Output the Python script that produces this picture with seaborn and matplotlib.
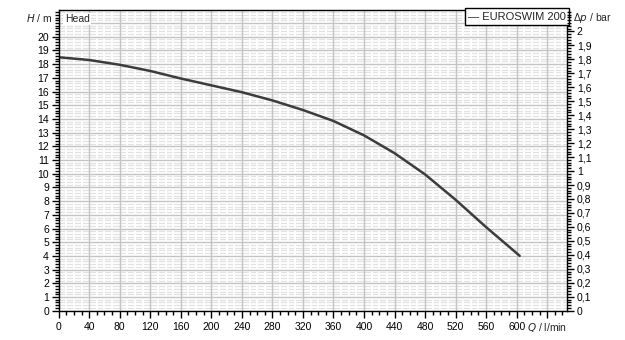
import matplotlib
matplotlib.use("Agg")
import matplotlib.pyplot as plt
import seaborn as sns
import pandas as pd
import numpy as np
from matplotlib.ticker import MultipleLocator, FixedLocator, FuncFormatter

# Data
flow_lpm = [0, 40, 80, 120, 160, 200, 240, 280, 320, 360, 400, 440, 480, 520, 560, 600, 604]
head_m = [18.5, 18.3, 17.95, 17.5, 16.95, 16.45, 15.95, 15.35, 14.65, 13.85, 12.8, 11.5, 9.95, 8.1, 6.1, 4.2, 4.0]
series_name = "EUROSWIM 200"
x_tick_values = list(range(0, 601, 40))
y_tick_values = list(range(0, 21))
bar_tick_values = [round(0.1 * i, 1) for i in range(0, 21)]

df = pd.DataFrame({"Q": flow_lpm, "H": head_m, "pump": series_name})

sns.set_theme(style="white")
plt.rcParams["font.family"] = ["Liberation Sans", "DejaVu Sans"]

fig = plt.figure(figsize=(6.25, 3.4), dpi=100)
ax = fig.add_axes([58.7 / 625, 1 - 310.7 / 340, (567 - 58.7) / 625, (310.7 - 10) / 340])

XMAX = 666
YMAX = 21.95
ax.set_xlim(0, XMAX)
ax.set_ylim(0, YMAX)

# grid (drawn manually in layers: light horizontal minor, white vertical minor, gray majors)
ax.grid(False)
x_major_grid = np.arange(0, 641, 40)
x_minor_grid = np.array([v for v in np.arange(0, XMAX, 10) if v % 40 != 0])
y_major_grid = np.arange(0, 22, 1)
y_minor_grid = np.array([v for v in np.arange(0, YMAX, 0.2) if abs(v - round(v)) > 1e-6])
ax.hlines(y_minor_grid, 0, XMAX, colors="#e2e2e2", linewidth=0.9, zorder=0.1)
ax.vlines(x_minor_grid, 0, YMAX, colors="white", linewidth=1.4, zorder=0.2)
ax.vlines(x_major_grid, 0, YMAX, colors="#c4c4c4", linewidth=1.0, zorder=0.3)
ax.hlines(y_major_grid, 0, XMAX, colors="#c4c4c4", linewidth=1.0, zorder=0.3)

sns.lineplot(data=df, x="Q", y="H", ax=ax, color="#3c3c3c", linewidth=1.8,
             legend=False, zorder=3)

for s in ax.spines.values():
    s.set_color("black")
    s.set_linewidth(1.0)
    s.set_zorder(4)

fs = 7.5
ax.xaxis.set_major_locator(FixedLocator(list(range(0, 641, 40))))
ax.xaxis.set_minor_locator(MultipleLocator(10))
ax.yaxis.set_major_locator(FixedLocator(y_tick_values))
ax.yaxis.set_minor_locator(MultipleLocator(0.2))
xlabels = {v: str(v) for v in x_tick_values}
ax.xaxis.set_major_formatter(FuncFormatter(lambda v, p: xlabels.get(int(round(v)), "")))
ax.yaxis.set_major_formatter(FuncFormatter(lambda v, p: str(int(round(v)))))
ax.tick_params(axis="x", which="major", direction="out", length=5, width=1, colors="black",
               labelsize=fs, pad=3, bottom=True)
ax.tick_params(axis="x", which="minor", direction="out", length=3, width=1, colors="black", bottom=True)
ax.tick_params(axis="y", which="major", direction="out", length=5, width=1, colors="black",
               labelsize=fs, pad=2, left=True)
ax.tick_params(axis="y", which="minor", direction="out", length=3, width=1, colors="black", left=True)
ax.set_xlabel("")
ax.set_ylabel("")

# right axis in bar
ax2 = ax.twinx()
BAR_PER_M = 0.0981
ax2.set_ylim(0, YMAX * BAR_PER_M)
ax2.yaxis.set_major_locator(FixedLocator(bar_tick_values))
ax2.yaxis.set_minor_locator(MultipleLocator(0.02))
ax2.yaxis.set_major_formatter(FuncFormatter(
    lambda v, p: ("%g" % round(v, 1)).replace(".", ",")))
ax2.tick_params(axis="y", which="major", direction="out", length=5, width=1, colors="black",
                labelsize=fs, pad=2, right=True)
ax2.tick_params(axis="y", which="minor", direction="out", length=3, width=1, colors="black", right=True)
ax2.grid(False)
for s in ax2.spines.values():
    s.set_visible(False)

# axis titles placed like the original
ax.text(-0.012, 21.35, "$H$ / m", transform=ax.get_yaxis_transform(), ha="right", va="center",
        fontsize=fs)
ax.text(1.012, 21.35, "\u0394$p$ / bar", transform=ax.get_yaxis_transform(), ha="left", va="center",
        fontsize=fs)
ax.text(640, -0.035, "$Q$ / l/min", transform=ax.get_xaxis_transform(), ha="center", va="top",
        fontsize=fs)
ax.text(0.012, 21.3, "Head", transform=ax.get_yaxis_transform(), ha="left", va="center",
        fontsize=fs, zorder=5, bbox=dict(facecolor="white", edgecolor="none", pad=1))

# legend box
ax.text(0.998, 0.995, "\u2014 " + series_name, transform=ax.transAxes, ha="right", va="top",
        fontsize=fs + 0.5, zorder=5,
        bbox=dict(facecolor="white", edgecolor="black", linewidth=1.0, boxstyle="square,pad=0.3"))

fig.savefig("out.png", dpi=100)
